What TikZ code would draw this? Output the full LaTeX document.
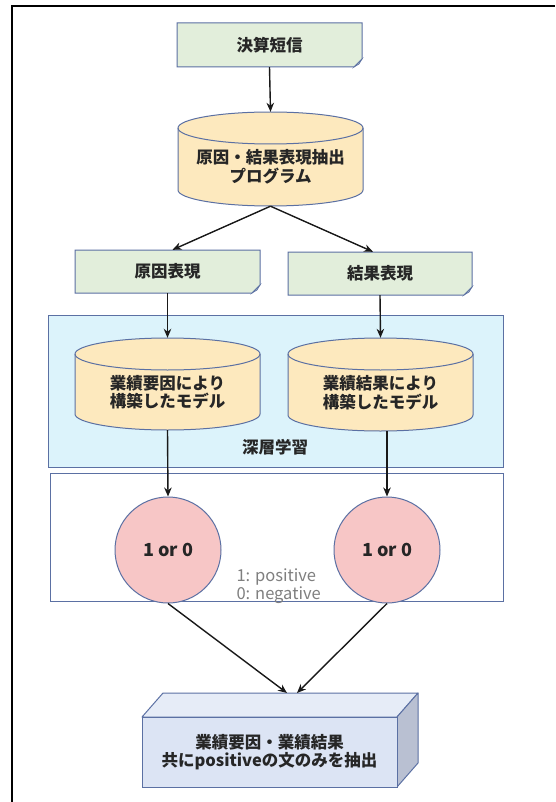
\documentclass[tikz,border=0pt]{standalone}
\usepackage{fontspec}
\setmainfont{Noto Sans CJK JP}
\usetikzlibrary{arrows.meta}
\definecolor{docfill}{HTML}{E2EEDB}
\definecolor{bordc}{HTML}{5B70A3}
\definecolor{cylfill}{HTML}{FDE9BE}
\definecolor{bluefill}{HTML}{DCF3FB}
\definecolor{circfill}{HTML}{F7C6C6}
\definecolor{cubefront}{HTML}{DCE4F4}
\definecolor{cubetop}{HTML}{E6ECF7}
\definecolor{cubeside}{HTML}{B9C0D2}
\definecolor{legendgray}{HTML}{7F7F7F}

\newcommand{\docnode}[6]{%
  \path[docsty] (#2-#4/2,#3-#5/2) -- (#2+#4/2,#3-#5/2) -- (#2+#4/2,#3+#5/2-8) -- (#2+#4/2-8,#3+#5/2) -- (#2-#4/2,#3+#5/2) -- cycle;
  \path[foldsty] (#2+#4/2,#3+#5/2-8) -- (#2+#4/2-3,#3+#5/2-3) -- (#2+#4/2-8,#3+#5/2) -- cycle;
  \node[lbl, minimum width=#4, minimum height=#5, inner sep=0pt] (#1) at (#2,#3) {#6};}

\newcommand{\cylnode}[7]{%
  \path[cylsty] (#2-#5,#3+#6) -- (#2-#5,#4-#6) arc[start angle=180,end angle=360,x radius=#5pt,y radius=#6pt] -- (#2+#5,#3+#6) arc[start angle=0,end angle=180,x radius=#5pt,y radius=#6pt] -- cycle;
  \draw[cylline] (#2-#5,#3+#6) arc[start angle=180,end angle=360,x radius=#5pt,y radius=#6pt];
  \node[minimum width=2*#5, minimum height=#4-#3, inner sep=0pt] (#1) at (#2,{(#3+#4)/2}) {};
  \node[lbl] (#1-t) at (#2,{(#3+#4)/2+#6/2}) {#7};}

\begin{document}
\begin{tikzpicture}[x=1pt,y=-1pt,
  lbl/.style={font=\bfseries\fontsize{16.5}{18.5}\selectfont, align=center, text=black!85},
  docsty/.style={fill=docfill, draw=bordc, line width=1pt},
  foldsty/.style={fill=docfill!60!bordc, draw=bordc, line width=0.6pt},
  cylsty/.style={fill=cylfill, draw=bordc, line width=1pt},
  cylline/.style={draw=bordc, line width=1pt},
  arr/.style={-{Stealth[length=9pt,width=7.5pt]}, line width=1.4pt, black!90},
  panel/.style={draw=bordc, line width=1pt, inner sep=0pt},
  circ/.style={circle, fill=circfill, draw=bordc, line width=1pt, minimum size=106pt, inner sep=0pt,
               font=\bfseries\fontsize{18}{20}\selectfont, text=black!85},
  cubesty/.style={draw=bordc, line width=1pt, line join=round}]
\useasboundingbox (0,0) rectangle (555,802);
\fill[white] (0,0) rectangle (555,802);

% outer frame (only top and left edges visible)
\coordinate (frameBL) at (12,802);
\coordinate (frameTL) at (12,6);
\coordinate (frameTR) at (555,6);
\draw[line width=2pt, black] (frameBL) -- (frameTL) -- (frameTR);

% panels
\node[panel, fill=bluefill, minimum width=455pt, minimum height=152pt] (dlbox) at (275.5,391) {};
\node[lbl] (dllbl) at (275,447) {深層学習};
\node[panel, fill=white, minimum width=453pt, minimum height=128pt] (outbox) at (276.5,537) {};

% documents
\docnode{src}{269.5}{45}{185}{44}{決算短信}
\docnode{cause}{167.5}{271.5}{185}{43}{原因表現}
\docnode{effect}{380}{273.5}{184}{43}{結果表現}

% cylinders
\cylnode{prog}{270.5}{112}{206}{92.5}{16}{原因・結果表現抽出\\プログラム}
\cylnode{mA}{167.5}{338}{430}{92.5}{16}{業績要因により\\構築したモデル}
\cylnode{mB}{380.5}{338}{431}{92.5}{16}{業績結果により\\構築したモデル}

% circles
\node[circ] (oA) at (168,550) {1 or 0};
\node[circ] (oB) at (387,550) {1 or 0};
\node[anchor=west, align=left, font=\fontsize{16.5}{17.5}\selectfont, text=legendgray] (legend) at (233,586) {1: positive\\0: negative};

% cuboid
\path[cubesty, fill=cubetop] (142,717) -- (163,693) -- (418,693) -- (397,717) -- cycle;
\path[cubesty, fill=cubeside] (397,717) -- (418,693) -- (418,763) -- (397,787) -- cycle;
\node[lbl, draw=bordc, line width=1pt, fill=cubefront, minimum width=255pt, minimum height=70pt, inner sep=0pt] (final) at (269.5,752) {業績要因・業績結果\\共にpositiveの文のみを抽出};
\coordinate (inA) at (287,693);
\coordinate (inB) at (297,693);

% connectors
\draw[arr] (src.south) -- (prog.north);
\draw[arr] (prog.south) -- ([xshift=5pt]cause.north);
\draw[arr] (prog.south) -- ([xshift=-7pt]effect.north);
\draw[arr] (cause.south) -- (mA.north);
\draw[arr] (effect.south) -- (mB.north);
\draw[arr] (mA.south) -- (oA.north);
\draw[arr] (oB.north |- mB.south) -- (oB.north);
\draw[arr] (oA.south) -- (inA);
\draw[arr] (oB.south) -- (inB);
\end{tikzpicture}
\end{document}
